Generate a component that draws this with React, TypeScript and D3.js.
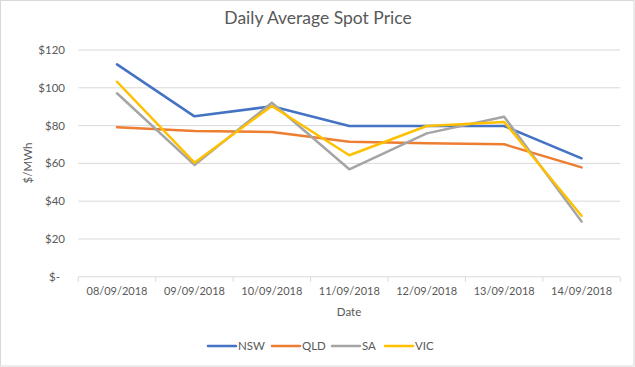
import React from "react";
import * as d3 from "d3";

const dates = ["08/09/2018", "09/09/2018", "10/09/2018", "11/09/2018", "12/09/2018", "13/09/2018", "14/09/2018"];
const nsw = [112.4, 84.9, 90.2, 79.8, 79.8, 79.8, 62.7];
const qld = [79.1, 77.1, 76.6, 71.5, 70.6, 70.1, 57.9];
const sa = [97.1, 59.2, 92.1, 56.9, 75.9, 84.7, 29.2];
const vic = [103.2, 60.4, 90.4, 64.3, 79.8, 81.9, 32.3];
const seriesNames = ["NSW", "QLD", "SA", "VIC"];
const seriesColors = ["#4472C4", "#ED7D31", "#A5A5A5", "#FFC000"];
const yTicks = [0, 20, 40, 60, 80, 100, 120];

const W = 635, H = 367;
const FONT = "Lato, 'Open Sans', sans-serif";
const TXT = "#595959";

export default function App() {
  const seriesData = [nsw, qld, sa, vic];
  const x = d3.scaleBand<string>().domain(dates).range([78.3, 620.3]);
  const y = d3.scaleLinear().domain([0, 120]).range([276.8, 50]);
  const line = d3
    .line<number>()
    .x((_, i) => (x(dates[i]) as number) + x.bandwidth() / 2)
    .y((d) => y(d));
  const fmt = (v: number) => (v === 0 ? "$-" : "$" + v);
  const legendX = [208, 272, 332, 385];

  return (
    <svg width={W} height={H} style={{ position: "absolute", left: 0, top: 0, background: "#fff" }} fontFamily={FONT}>
      <rect x={0.5} y={0.5} width={W - 1.5} height={H - 1.5} fill="#fff" stroke="#d9d9d9" />
      <text x={318} y={24} textAnchor="middle" fontSize={17.5} fill={TXT}>Daily Average Spot Price</text>
      {yTicks.map((t) => (
        <g key={t}>
          {t > 0 && <line x1={78.3} x2={620.3} y1={y(t)} y2={y(t)} stroke="#d9d9d9" strokeWidth={1} />}
          <text x={t === 0 ? 60 : 65} y={y(t)} dy="0.35em" textAnchor="end" fontSize={11.5} fill={TXT}>{fmt(t)}</text>
        </g>
      ))}
      <line x1={78.3} x2={620.3} y1={y(0)} y2={y(0)} stroke="#d9d9d9" strokeWidth={1} />
      {dates.map((d, i) => (
        <line key={"t" + i} x1={x(d)} x2={x(d)} y1={y(0)} y2={y(0) + 5} stroke="#d9d9d9" />
      ))}
      <line x1={620.3} x2={620.3} y1={y(0)} y2={y(0) + 5} stroke="#d9d9d9" />
      {dates.map((d) => (
        <text key={d} x={(x(d) as number) + x.bandwidth() / 2} y={295} textAnchor="middle" fontSize={11} fill={TXT}>{d}</text>
      ))}
      <text x={349} y={316} textAnchor="middle" fontSize={11.5} fill={TXT}>Date</text>
      <text transform={`translate(32,163) rotate(-90)`} textAnchor="middle" fontSize={11.5} fill={TXT}>$/MWh</text>
      {seriesData.map((s, i) => (
        <path key={seriesNames[i]} d={line(s) || ""} fill="none" stroke={seriesColors[i]} strokeWidth={2.5} strokeLinejoin="round" strokeLinecap="round" />
      ))}
      {seriesNames.map((n, i) => (
        <g key={n}>
          <line x1={legendX[i]} x2={legendX[i] + 28} y1={346} y2={346} stroke={seriesColors[i]} strokeWidth={2.5} strokeLinecap="round" />
          <text x={legendX[i] + 30} y={346} dy="0.35em" fontSize={11.5} fill={TXT}>{n}</text>
        </g>
      ))}
    </svg>
  );
}
